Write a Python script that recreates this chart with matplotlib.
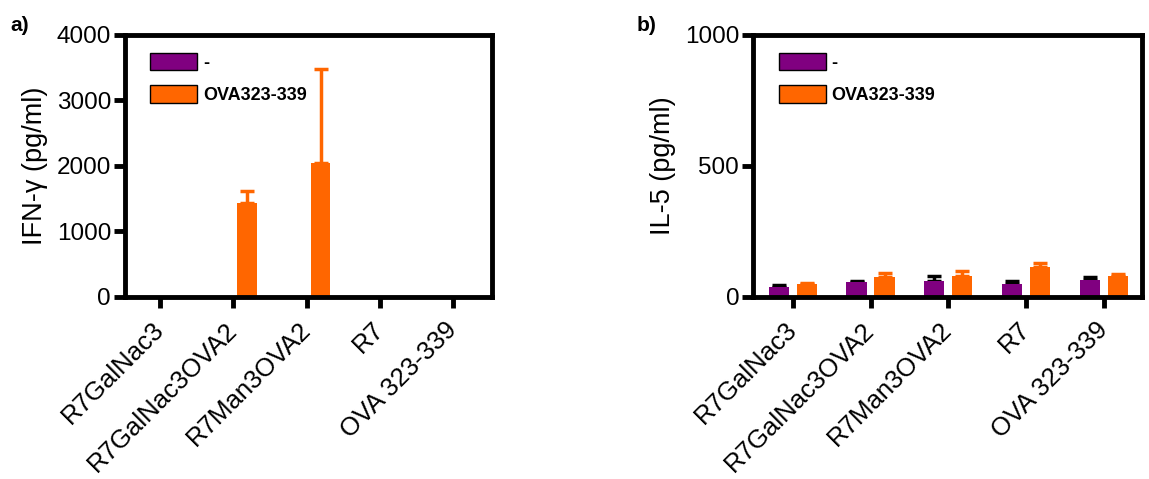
import numpy as np
import matplotlib
matplotlib.use("Agg")
import matplotlib.pyplot as plt
from matplotlib.patches import Patch

# data
cats = ["R7GalNac3", "R7GalNac3OVA2", "R7Man3OVA2", "R7", "OVA 323-339"]
ifn_neg = [0, 0, 0, 0, 0]
ifn_neg_err = [0, 0, 0, 0, 0]
ifn_ova = [0, 1437, 2038, 0, 0]
ifn_ova_err = [0, 178, 1437, 0, 0]
il5_neg = [38, 56, 60, 48, 64]
il5_neg_err = [9, 6, 20, 14, 14]
il5_ova = [51, 76, 79, 113, 79]
il5_ova_err = [2, 17, 19, 18, 10]

purple = "#800080"
orange = "#FF6600"

plt.rcParams['font.family'] = ['Liberation Sans', 'DejaVu Sans']

fig = plt.figure(figsize=(11.49, 4.79), dpi=100)
ax1 = fig.add_axes([0.1088, 0.380, 0.3194, 0.547])
ax2 = fig.add_axes([0.6554, 0.380, 0.3386, 0.547])


def panel(ax, neg, negerr, ova, ovaerr, ymax, yticks, ylabel, xlim, w, off):
    x = np.arange(len(cats))
    ax.bar(x - off, neg, w, color=purple, zorder=2)
    ax.bar(x + off, ova, w, color=orange, zorder=2)
    neg = np.array(neg); ova = np.array(ova)
    m = neg > 0
    if m.any():
        ax.errorbar(x[m] - off, neg[m], yerr=[np.zeros(m.sum()), np.array(negerr)[m]],
                    fmt="none", ecolor="black", elinewidth=2.5, capsize=5, capthick=2.5, zorder=1)
    m = ova > 0
    if m.any():
        ax.errorbar(x[m] + off, ova[m], yerr=[np.zeros(m.sum()), np.array(ovaerr)[m]],
                    fmt="none", ecolor=orange, elinewidth=2.5, capsize=5, capthick=2.5, zorder=1)
    ax.set_ylim(0, ymax)
    ax.set_xlim(*xlim)
    ax.set_yticks(yticks)
    ax.set_yticklabels([str(t) for t in yticks], fontsize=17.5)
    ax.set_xticks(x)
    ax.set_xticklabels(cats, rotation=45, ha="right", va="center", rotation_mode="anchor",
                       fontsize=18.5)
    ax.set_ylabel(ylabel, fontsize=19.5, labelpad=6)
    for s in ax.spines.values():
        s.set_linewidth(3.5)
    ax.tick_params(axis="both", direction="out", length=8, width=3.5, pad=2)
    ax.tick_params(axis="x", pad=13)
    handles = [Patch(facecolor=purple, edgecolor="black", linewidth=1),
               Patch(facecolor=orange, edgecolor="black", linewidth=1)]
    ax.legend(handles, ["-", "OVA323-339"], loc="upper left", frameon=False,
              prop={"weight": "bold", "size": 13},
              handlelength=2.6, handleheight=1.1, labelspacing=0.75,
              handletextpad=0.3, borderaxespad=0.6, bbox_to_anchor=(0.02, 1.0))


panel(ax1, ifn_neg, ifn_neg_err, ifn_ova, ifn_ova_err, 4000, [0, 1000, 2000, 3000, 4000],
      "IFN-γ (pg/ml)", (-0.48, 4.53), 0.27, 0.19)
panel(ax2, il5_neg, il5_neg_err, il5_ova, il5_ova_err, 1000, [0, 500, 1000],
      "IL-5 (pg/ml)", (-0.51, 4.49), 0.26, 0.18)

fig.text(0.009, 0.935, "a)", fontsize=15, fontweight="bold")
fig.text(0.554, 0.935, "b)", fontsize=15, fontweight="bold")

plt.savefig("out.png", dpi=100)
